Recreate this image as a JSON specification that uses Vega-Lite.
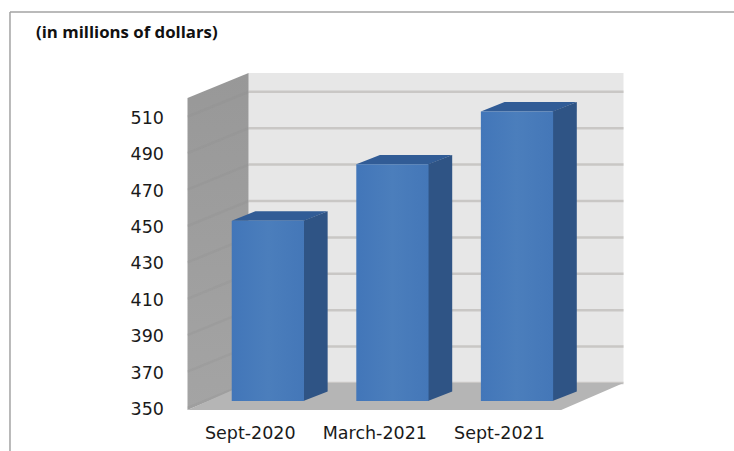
{
  "$schema": "https://vega.github.io/schema/vega-lite/v6.json",
  "width": 436,
  "height": 337,
  "autosize": "none",
  "padding": {"left": 187.5, "top": 73, "right": 110.5, "bottom": 41},
  "background": "white",
  "view": {"stroke": null},
  "config": {
    "axis": {
      "domain": false,
      "ticks": false,
      "grid": false,
      "labelFont": "DejaVu Sans",
      "labelFontSize": 17.5,
      "labelColor": "#1a1a1a"
    },
    "axisX": {"labelPadding": 14, "labelOverlap": false},
    "axisY": {"labelPadding": 24, "labelOverlap": false, "labelOffset": 1.5}
  },
  "title": {
    "text": "(in millions of dollars)",
    "anchor": "start",
    "frame": "group",
    "dx": -151.5,
    "dy": 35,
    "font": "Open Sans",
    "fontSize": 16.8,
    "fontWeight": "bold",
    "color": "#111111"
  },
  "datasets": {
    "bars": [
      {"period": "Sept-2020", "pos": 1, "value": 449},
      {"period": "March-2021", "pos": 2, "value": 480},
      {"period": "Sept-2021", "pos": 3, "value": 509}
    ],
    "ticks": [
      {"tick": 350}, {"tick": 370}, {"tick": 390}, {"tick": 410}, {"tick": 430},
      {"tick": 450}, {"tick": 470}, {"tick": 490}, {"tick": 510}
    ],
    "depths": [{"depth": 0}, {"depth": 1}],
    "single": [{"part": "frame"}]
  },
  "layer": [
    {
      "data": {"name": "single"},
      "mark": {"type": "rect", "color": "#e7e7e7"},
      "encoding": {
        "x": {"datum": 0.99, "type": "quantitative", "axis": {"title": null}},
        "x2": {"datum": 4},
        "y": {"datum": 363.74, "type": "quantitative", "axis": {"title": null}},
        "y2": {"datum": 534.05}
      }
    },
    {
      "data": {"name": "ticks"},
      "transform": [{"calculate": "datum.tick + 13.74", "as": "backY"}],
      "mark": {"type": "rule", "color": "#c9c7c5", "strokeWidth": 2.5},
      "encoding": {
        "x": {"datum": 0.99, "type": "quantitative", "axis": {"title": null}},
        "x2": {"datum": 4},
        "y": {"field": "backY", "type": "quantitative", "axis": {"title": null}}
      }
    },
    {
      "data": {"name": "depths"},
      "transform": [
        {"calculate": "0.5 + datum.depth * 0.49", "as": "wx"},
        {"calculate": "348.9 + datum.depth * 14", "as": "wLow"},
        {"calculate": "520.3 + datum.depth * 13.74", "as": "wHigh"}
      ],
      "mark": {
        "type": "area",
        "orient": "vertical",
        "color": {
          "gradient": "linear", "x1": 0, "y1": 0, "x2": 0, "y2": 1,
          "stops": [{"offset": 0, "color": "#989898"}, {"offset": 1, "color": "#a4a4a4"}]
        }
      },
      "encoding": {
        "x": {"field": "wx", "type": "quantitative", "axis": {"title": null}},
        "y": {"field": "wLow", "type": "quantitative", "axis": {"title": null}, "stack": null},
        "y2": {"field": "wHigh"}
      }
    },
    {
      "data": {"name": "ticks"},
      "transform": [
        {"calculate": "[0, 1]", "as": "depth"},
        {"flatten": ["depth"]},
        {"calculate": "0.5 + datum.depth * 0.49", "as": "wx"},
        {"calculate": "datum.tick + datum.depth * 13.74", "as": "wy"}
      ],
      "mark": {"type": "line", "color": "#8c8c8c", "strokeWidth": 2.5, "opacity": 0.2},
      "encoding": {
        "x": {"field": "wx", "type": "quantitative", "axis": {"title": null}},
        "y": {"field": "wy", "type": "quantitative", "axis": {"title": null}},
        "detail": {"field": "tick"}
      }
    },
    {
      "data": {"name": "depths"},
      "transform": [
        {"calculate": "348.9 + datum.depth * 14.84", "as": "fy"},
        {"calculate": "0.5 + datum.depth * 0.49", "as": "fx"},
        {"calculate": "3.5 + datum.depth * 0.5", "as": "fx2"}
      ],
      "mark": {"type": "area", "orient": "horizontal", "color": "#b5b5b5"},
      "encoding": {
        "y": {"field": "fy", "type": "quantitative", "axis": {"title": null}},
        "x": {"field": "fx", "type": "quantitative", "axis": {"title": null}, "stack": null},
        "x2": {"field": "fx2"}
      }
    },
    {
      "data": {"name": "bars"},
      "transform": [
        {"calculate": "[0, 1]", "as": "depth"},
        {"flatten": ["depth"]},
        {"calculate": "datum.value + 3.85 + datum.depth * 5.2", "as": "ty"},
        {"calculate": "datum.pos - 0.145 + datum.depth * 0.19", "as": "tx"},
        {"calculate": "datum.pos + 0.435 + datum.depth * 0.19", "as": "tx2"}
      ],
      "mark": {"type": "area", "orient": "horizontal", "color": "#315c96"},
      "encoding": {
        "y": {"field": "ty", "type": "quantitative", "axis": {"title": null}},
        "x": {"field": "tx", "type": "quantitative", "axis": {"title": null}, "stack": null},
        "x2": {"field": "tx2"},
        "detail": {"field": "period"}
      }
    },
    {
      "data": {"name": "bars"},
      "transform": [
        {"calculate": "[0, 1]", "as": "depth"},
        {"flatten": ["depth"]},
        {"calculate": "datum.pos + 0.43 + datum.depth * 0.195", "as": "sx"},
        {"calculate": "353.85 + datum.depth * 5.2", "as": "sLow"},
        {"calculate": "datum.value + 3.85 + datum.depth * 5.2", "as": "sHigh"}
      ],
      "mark": {"type": "area", "orient": "vertical", "color": "#2f5485"},
      "encoding": {
        "x": {"field": "sx", "type": "quantitative", "axis": {"title": null}},
        "y": {"field": "sLow", "type": "quantitative", "axis": {"title": null}, "stack": null},
        "y2": {"field": "sHigh"},
        "detail": {"field": "period"}
      }
    },
    {
      "data": {"name": "bars"},
      "transform": [
        {"calculate": "datum.pos - 0.145", "as": "fx"},
        {"calculate": "datum.pos + 0.435", "as": "fx2"},
        {"calculate": "datum.value + 3.85", "as": "fTop"},
        {"calculate": "353.85", "as": "fBase"}
      ],
      "mark": {
        "type": "rect",
        "color": {
          "gradient": "linear", "x1": 0, "y1": 0, "x2": 1, "y2": 0,
          "stops": [
            {"offset": 0, "color": "#4276b9"},
            {"offset": 0.5, "color": "#4b7ebc"},
            {"offset": 1, "color": "#4477b8"}
          ]
        }
      },
      "encoding": {
        "x": {
          "field": "fx",
          "type": "quantitative",
          "scale": {"domain": [0.5, 4], "nice": false, "zero": false},
          "axis": {
            "title": null,
            "values": [1, 2, 3],
            "labelExpr": "datum.value === 1 ? 'Sept-2020' : datum.value === 2 ? 'March-2021' : 'Sept-2021'"
          }
        },
        "x2": {"field": "fx2"},
        "y": {
          "field": "fTop",
          "type": "quantitative",
          "scale": {"domain": [348.9, 534.05], "nice": false, "zero": false},
          "axis": {
            "title": null,
            "values": [350, 370, 390, 410, 430, 450, 470, 490, 510]
          }
        },
        "y2": {"field": "fBase"}
      }
    },
    {
      "data": {"name": "single"},
      "mark": {"type": "rule", "color": "#a3a3a3", "strokeWidth": 1.5, "clip": false},
      "encoding": {
        "x": {"datum": -0.925, "type": "quantitative", "axis": {"title": null}},
        "x2": {"datum": 4.887},
        "y": {"datum": 567.6, "type": "quantitative", "axis": {"title": null}}
      }
    },
    {
      "data": {"name": "single"},
      "mark": {"type": "rule", "color": "#a3a3a3", "strokeWidth": 1.5, "clip": false},
      "encoding": {
        "x": {"datum": -0.925, "type": "quantitative", "axis": {"title": null}},
        "y": {"datum": 567.6, "type": "quantitative", "axis": {"title": null}},
        "y2": {"datum": 326.4}
      }
    }
  ]
}
